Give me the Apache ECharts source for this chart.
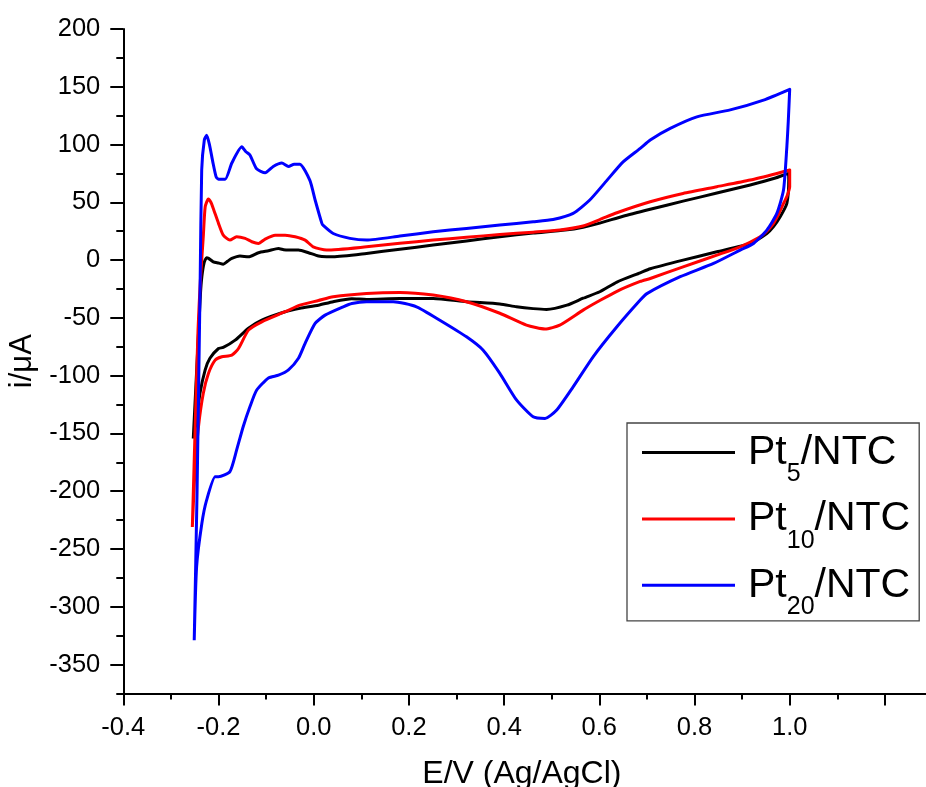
<!DOCTYPE html>
<html>
<head>
<meta charset="utf-8">
<script src="https://cdn.jsdelivr.net/npm/echarts@6/dist/echarts.min.js"></script>
<style>
html,body{margin:0;padding:0;background:#fff;}
#chart{width:926px;height:787px;}
</style>
</head>
<body>
<div id="chart"></div>
<script>
// ---- data (E in V vs Ag/AgCl, i in µA) ----
const seriesNames = ['Pt5/NTC', 'Pt10/NTC', 'Pt20/NTC'];
const seriesSubs = ['5', '10', '20'];
const seriesColors = ['#000000', '#ff0000', '#0000ff'];

const xTickLabels = [-0.4, -0.2, 0.0, 0.2, 0.4, 0.6, 0.8, 1.0, 1.2];
const yTickLabels = [-350, -300, -250, -200, -150, -100, -50, 0, 50, 100, 150, 200];

const pt5Anodic = [
  [-0.253,-154.4],[-0.244,-80],[-0.238,-30],[-0.235,-14.5],[-0.230,-2],[-0.225,2],[-0.221,1.5],
  [-0.211,-1.5],[-0.200,-2.5],[-0.190,-3.5],[-0.181,-1],[-0.172,1.4],[-0.155,3.5],[-0.137,2.9],
  [-0.116,6.4],[-0.095,8.1],[-0.074,10],[-0.063,9],[-0.053,8.7],[-0.032,8.7],[-0.011,6.4],
  [0.010,3.5],[0.027,3],[0.041,3],[0.111,5.8],[0.181,9.4],[0.251,13],[0.321,16.6],[0.391,20.2],
  [0.461,23.4],[0.528,26],[0.566,28.5],[0.601,32],[0.650,38],[0.707,44],[0.776,51],[0.847,58],
  [0.917,65],[0.970,71],[0.997,75]
];
const pt5Cathodic = [
  [0.998,70],[0.994,49],[0.980,37.5],[0.966,29],[0.952,23],[0.917,14.4],[0.847,7.2],[0.776,0],
  [0.707,-7.5],[0.686,-11],[0.637,-19],[0.601,-27.4],[0.566,-33],[0.532,-39],[0.489,-42.7],
  [0.461,-42],[0.426,-40.4],[0.391,-38],[0.321,-36],[0.251,-33.2],[0.181,-33.2],[0.111,-34],
  [0.080,-33.5],[0.041,-36],[0.010,-39],[-0.029,-41.8],[-0.060,-44.7],[-0.109,-52],[-0.137,-59],
  [-0.165,-69.3],[-0.190,-75.6],[-0.200,-76.5],[-0.218,-85],[-0.228,-95],[-0.239,-115.4],
  [-0.246,-138.5],[-0.253,-154.4]
];

const pt10Anodic = [
  [-0.255,-231],[-0.248,-130],[-0.243,-60],[-0.238,-17],[-0.232,20],[-0.228,46],[-0.2214,52.8],
  [-0.216,50],[-0.211,44.7],[-0.200,31.8],[-0.190,21.6],[-0.176,17.3],[-0.162,20.2],[-0.144,18.8],
  [-0.130,15.9],[-0.116,14.4],[-0.102,18.2],[-0.081,21.6],[-0.060,21.6],[-0.039,20.2],[-0.018,17.3],
  [-0.001,11.5],[0.027,8.7],[0.111,11.5],[0.181,14.5],[0.251,17.3],[0.321,19.7],[0.391,22.2],
  [0.461,24.2],[0.517,26],[0.566,29.5],[0.601,35],[0.637,41],[0.707,50.5],[0.776,57.7],
  [0.847,63.5],[0.917,69.3],[0.973,75],[1.000,78]
];
const pt10Cathodic = [
  [1.000,63.5],[0.994,55],[0.987,49],[0.977,40],[0.966,31.8],[0.952,25],[0.938,20.2],[0.896,11.5],
  [0.847,4.3],[0.776,-5.8],[0.707,-15.9],[0.686,-18.5],[0.637,-27],[0.601,-35],[0.566,-43.3],
  [0.517,-56.3],[0.486,-59.7],[0.447,-56.3],[0.391,-46],[0.321,-36],[0.251,-30.3],[0.181,-28],
  [0.111,-28.9],[0.041,-31.8],[0.010,-35],[-0.029,-39],[-0.060,-44.7],[-0.109,-53.4],[-0.137,-60.6],
  [-0.158,-76.5],[-0.172,-82.3],[-0.193,-83.7],[-0.207,-86.6],[-0.221,-98],[-0.232,-115.4],
  [-0.242,-144],[-0.249,-179],[-0.255,-231]
];

const pt20Anodic = [
  [-0.251,-329],[-0.245,-200],[-0.2385,-17],[-0.2353,78],[-0.2298,104],[-0.2248,108],[-0.219,100],
  [-0.212,85],[-0.205,72],[-0.200,70],[-0.186,70],[-0.172,84],[-0.151,98],[-0.143,94],[-0.134,91],
  [-0.120,79],[-0.102,75.6],[-0.085,81],[-0.067,84],[-0.053,81],[-0.041,83],[-0.029,83],[-0.008,69],
  [0.003,52],[0.017,32],[0.020,30],[0.041,23],[0.076,18.8],[0.111,17.3],[0.181,20.8],[0.251,24.5],
  [0.321,27.4],[0.391,30.3],[0.461,33.2],[0.503,35.2],[0.545,40.4],[0.580,52],[0.616,69],[0.650,85],
  [0.686,96.7],[0.707,104],[0.749,114],[0.805,124],[0.875,130],[0.945,138.5],[1.000,147.8]
];
const pt20Cathodic = [
  [0.997,120],[0.994,98],[0.987,60.6],[0.973,40.4],[0.952,26],[0.924,14.4],[0.896,8.7],[0.840,-2.9],
  [0.770,-14.4],[0.700,-29],[0.686,-34.6],[0.637,-57.7],[0.587,-83.7],[0.545,-109.7],[0.510,-130],
  [0.486,-137],[0.461,-135.6],[0.426,-121],[0.391,-98],[0.356,-78],[0.321,-66.4],[0.265,-52],
  [0.216,-40.4],[0.167,-36],[0.111,-36],[0.080,-37.5],[0.062,-40.4],[0.024,-47.6],[0.003,-54.8],
  [-0.018,-72],[-0.032,-85],[-0.053,-95],[-0.074,-99.6],[-0.095,-102],[-0.120,-112.6],[-0.134,-127],
  [-0.148,-144],[-0.162,-164.5],[-0.176,-183],[-0.200,-187.6],[-0.207,-187.6],[-0.225,-207.8],
  [-0.235,-228],[-0.246,-265.5],[-0.251,-329]
];

const seriesData = [
  pt5Anodic.concat(pt5Cathodic),
  pt10Anodic.concat(pt10Cathodic),
  pt20Anodic.concat(pt20Cathodic)
];

// ---- chart ----
const FONT = '"Liberation Sans", Arial, Helvetica, sans-serif';
const chart = echarts.init(document.getElementById('chart'), null, {renderer: 'canvas'});

const axisLineStyle = {color: '#000', width: 2};

const option = {
  animation: false,
  backgroundColor: '#fff',
  grid: {left: 123.3, top: 29, width: 809.2, height: 664.4, containLabel: false, outerBoundsMode: 'none'},
  xAxis: {
    type: 'value', min: -0.4, max: 1.3, interval: 0.2,
    name: 'E/V (Ag/AgCl)', nameLocation: 'middle', nameGap: 65,
    nameTextStyle: {fontFamily: FONT, fontSize: 32, color: '#000', padding: [0, 12, 0, 0]},
    axisLine: {show: true, onZero: false, lineStyle: axisLineStyle},
    axisTick: {show: true, length: 12, lineStyle: {color: '#000', width: 2}},
    minorTick: {show: true, splitNumber: 2, length: 6, lineStyle: {color: '#000', width: 2}},
    axisLabel: {
      fontFamily: FONT, fontSize: 25.5, color: '#000', margin: 22, showMaxLabel: false,
      customValues: xTickLabels,
      formatter: v => v.toFixed(1)
    },
    splitLine: {show: false}, minorSplitLine: {show: false}
  },
  yAxis: [{
    type: 'value', min: -375, max: 200,
    name: 'i/μA', nameLocation: 'middle', nameGap: 84, nameRotate: 90,
    nameTextStyle: {fontFamily: FONT, fontSize: 31, color: '#000'},
    axisLine: {show: true, onZero: false, lineStyle: axisLineStyle},
    axisTick: {show: true, length: 13, customValues: yTickLabels, lineStyle: {color: '#000', width: 2}},
    axisLabel: {fontFamily: FONT, fontSize: 25.5, color: '#000', margin: 23, customValues: yTickLabels},
    splitLine: {show: false}
  }, {
    type: 'value', min: -375, max: 200, interval: 25, position: 'left', offset: 0,
    axisLine: {show: false, onZero: false},
    axisTick: {show: true, length: 7, lineStyle: {color: '#000', width: 2}},
    axisLabel: {show: false},
    splitLine: {show: false}
  }],
  legend: {
    orient: 'vertical', left: 627, top: 423,
    padding: [9, 9, 1, 15],
    borderColor: '#444', borderWidth: 1.3,
    backgroundColor: '#fff',
    itemWidth: 93, itemHeight: 3, itemGap: 11.4,
    icon: 'rect',
    selectedMode: false,
    data: seriesNames,
    formatter: name => {
      const i = seriesNames.indexOf(name);
      return '{p|Pt}{s|' + seriesSubs[i] + '}{a|/NTC}';
    },
    textStyle: {
      fontFamily: FONT, color: '#000',
      rich: {
        p: {fontFamily: FONT, fontSize: 41, lineHeight: 46, color: '#000', padding: [0, 0, 0, 8]},
        a: {fontFamily: FONT, fontSize: 41, lineHeight: 46, color: '#000'},
        s: {fontFamily: FONT, fontSize: 25, lineHeight: 46, verticalAlign: 'bottom', padding: [0, 0, -11.5, 0], color: '#000'}
      }
    }
  },
  series: seriesNames.map((n, i) => ({
    name: n,
    type: 'line',
    xAxisIndex: 0, yAxisIndex: 0,
    data: seriesData[i],
    showSymbol: false, symbol: 'none',
    smooth: 0.2,
    color: seriesColors[i],
    lineStyle: {color: seriesColors[i], width: 3, join: 'round'},
    emphasis: {disabled: true},
    z: 2 + i
  }))
};
chart.setOption(option);
</script>
</body>
</html>
